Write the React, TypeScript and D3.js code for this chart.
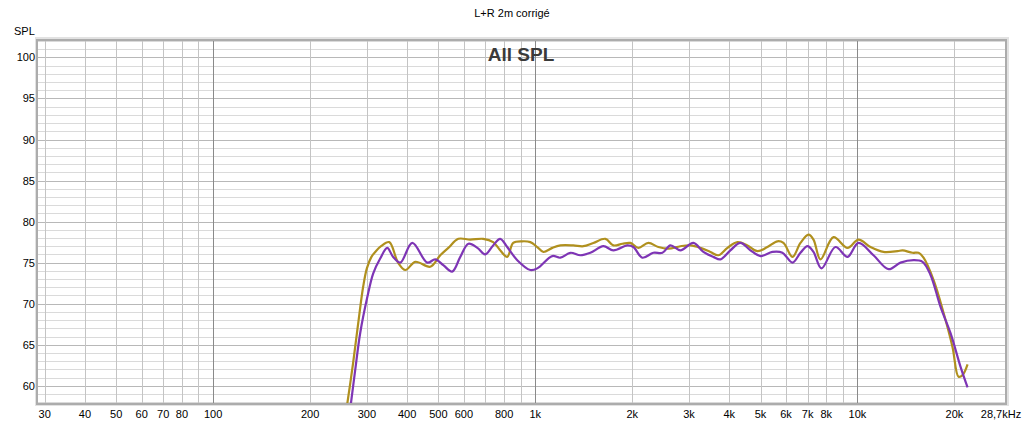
import React, { useRef, useEffect } from 'react';
import * as d3 from 'd3';

const goldFreq = [259, 272, 282, 292, 300, 310, 320, 332, 352, 375, 395, 424, 472, 507, 537, 577, 628, 689, 740, 778, 818, 854, 911, 965, 1014, 1059, 1129, 1196, 1312, 1410, 1514, 1650, 1747, 1863, 1972, 2089, 2244, 2410, 2588, 2820, 3030, 3253, 3495, 3701, 3948, 4240, 4554, 4891, 5253, 5644, 5891, 6284, 6653, 7045, 7302, 7676, 8425, 9310, 10073, 10975, 12040, 13313, 13799, 14822, 15470, 16033, 17219, 18497, 19725, 20591, 21191, 21963];
const goldSpl = [57.0, 62.8, 67.6, 72.0, 74.3, 75.7, 76.4, 77.0, 77.5, 75.0, 74.1, 75.1, 74.5, 75.9, 76.8, 77.9, 77.8, 77.9, 77.5, 76.5, 75.7, 77.4, 77.6, 77.5, 76.9, 76.3, 76.8, 77.1, 77.1, 77.0, 77.4, 77.9, 77.1, 77.3, 77.4, 76.8, 77.4, 76.9, 76.7, 77.0, 77.1, 76.8, 76.3, 75.9, 76.8, 77.5, 77.1, 76.4, 76.9, 77.6, 77.4, 75.7, 77.4, 78.4, 77.8, 75.4, 78.1, 76.8, 77.8, 76.9, 76.3, 76.4, 76.5, 76.2, 76.2, 75.6, 72.9, 68.9, 64.7, 61.1, 61.3, 62.6];

const purpleFreq = [266, 276, 286, 301, 314, 330, 347, 362, 381, 415, 462, 489, 518, 552, 585, 620, 661, 699, 740, 778, 818, 879, 965, 1014, 1129, 1196, 1285, 1380, 1482, 1626, 1747, 1931, 2015, 2149, 2325, 2480, 2626, 2820, 3095, 3324, 3571, 3754, 4032, 4332, 4653, 4998, 5445, 5848, 6284, 6653, 6995, 7302, 7731, 8546, 9310, 10073, 11213, 12488, 13602, 14929, 15919, 16855, 18106, 19447, 20889, 21963];
const purpleSpl = [57.0, 61.9, 66.4, 70.8, 73.7, 75.5, 76.8, 75.7, 75.0, 77.4, 75.0, 75.4, 74.7, 73.9, 75.7, 77.3, 76.8, 76.0, 77.1, 77.9, 76.9, 75.3, 74.1, 74.3, 75.8, 75.6, 76.2, 75.9, 76.2, 77.0, 76.5, 77.1, 76.9, 75.6, 76.2, 76.2, 77.1, 76.5, 77.4, 76.3, 75.7, 75.4, 76.5, 77.4, 76.5, 75.8, 76.3, 76.2, 75.0, 76.2, 77.0, 76.3, 74.3, 76.9, 75.7, 77.4, 75.9, 74.2, 75.0, 75.3, 75.1, 73.5, 69.6, 66.4, 62.3, 59.8];

const xTickValues = [30, 40, 50, 60, 70, 80, 100, 200, 300, 400, 500, 600, 800, 1000, 2000, 3000, 4000, 5000, 6000, 7000, 8000, 10000, 20000];
const yTickValues = [60, 65, 70, 75, 80, 85, 90, 95, 100];

const chartTitle = 'L+R 2m corrigé';
const innerTitle = 'All SPL';

const W = 1024;
const H = 426;
const left = 38;
const right = 1005;
const top = 41;
const bottom = 403;

const fmtFreq = (f: number) => (f >= 1000 ? `${f / 1000}k` : `${f}`);

const App: React.FC = () => {
  const svgRef = useRef<SVGSVGElement | null>(null);

  useEffect(() => {
    if (!svgRef.current) return;
    const svg = d3.select(svgRef.current);
    svg.selectAll('*').remove();

    const x = d3.scaleLog().domain([28.6, 28700]).range([left, right]);
    const y = d3.scaleLinear().domain([57.9, 102]).range([bottom, top]);

    svg.append('rect').attr('width', W).attr('height', H).attr('fill', '#fff');

    // shadow frame
    svg.append('rect')
      .attr('x', left - 3).attr('y', top - 4)
      .attr('width', right - left + 7).attr('height', bottom - top + 7)
      .attr('fill', '#e2e2e2');
    svg.append('rect')
      .attr('x', left - 2).attr('y', top - 2)
      .attr('width', right - left + 4).attr('height', bottom - top + 4)
      .attr('fill', '#acacac');
    svg.append('rect')
      .attr('x', left).attr('y', top)
      .attr('width', right - left).attr('height', bottom - top)
      .attr('fill', '#fff');

    const grid = svg.append('g');
    // horizontal grid every 1 dB
    for (let v = 58; v <= 102; v++) {
      grid.append('line')
        .attr('x1', left).attr('x2', right)
        .attr('y1', Math.round(y(v)) + 0.5).attr('y2', Math.round(y(v)) + 0.5)
        .attr('stroke', v % 5 === 0 ? '#b8b8b8' : '#dadada')
        .attr('stroke-width', 1);
    }
    // vertical grid
    const vLines: number[] = [];
    [10, 100, 1000, 10000].forEach((d) => {
      for (let k = 1; k <= 9; k++) {
        const f = d * k;
        if (f >= 30 && f <= 28000) vLines.push(f);
      }
    });
    vLines.forEach((f) => {
      const major = f === 100 || f === 1000 || f === 10000;
      grid.append('line')
        .attr('x1', Math.round(x(f)) + 0.5).attr('x2', Math.round(x(f)) + 0.5)
        .attr('y1', top).attr('y2', bottom)
        .attr('stroke', major ? '#8a8a8a' : '#c4c4c4')
        .attr('stroke-width', 1);
    });

    svg.append('text')
      .attr('x', 521).attr('y', 61)
      .attr('text-anchor', 'middle')
      .style('font-family', 'Liberation Sans, Arial, sans-serif')
      .style('font-size', '19px')
      .style('font-weight', 'bold')
      .style('fill', '#3a3a3a')
      .text(innerTitle);

    const clip = svg.append('clipPath').attr('id', 'plotclip');
    clip.append('rect').attr('x', left).attr('y', top).attr('width', right - left).attr('height', bottom - top);

    const line = d3.line<[number, number]>()
      .x((d) => x(d[0]))
      .y((d) => y(d[1]))
      .curve(d3.curveCatmullRom.alpha(0.5));

    const plot = svg.append('g').attr('clip-path', 'url(#plotclip)');
    plot.append('path')
      .datum(goldFreq.map((f, i) => [f, goldSpl[i]] as [number, number]))
      .attr('d', line)
      .attr('fill', 'none')
      .attr('stroke', '#b0901e')
      .attr('stroke-width', 2.2);
    plot.append('path')
      .datum(purpleFreq.map((f, i) => [f, purpleSpl[i]] as [number, number]))
      .attr('d', line)
      .attr('fill', 'none')
      .attr('stroke', '#7e35b5')
      .attr('stroke-width', 2.2);

    const font = 'Liberation Sans, Arial, sans-serif';

    svg.append('text')
      .attr('x', 512).attr('y', 17)
      .attr('text-anchor', 'middle')
      .style('font-family', font).style('font-size', '11px').style('fill', '#000')
      .text(chartTitle);

    svg.append('text')
      .attr('x', 14).attr('y', 35)
      .style('font-family', font).style('font-size', '11px').style('fill', '#000')
      .text('SPL');

    svg.append('g').selectAll('text')
      .data(yTickValues)
      .enter().append('text')
      .attr('x', 35)
      .attr('y', (d) => y(d) + 4)
      .attr('text-anchor', 'end')
      .style('font-family', font).style('font-size', '11px').style('fill', '#000')
      .text((d) => d);

    svg.append('g').selectAll('text')
      .data(xTickValues)
      .enter().append('text')
      .attr('x', (d) => x(d))
      .attr('y', 418)
      .attr('text-anchor', 'middle')
      .style('font-family', font).style('font-size', '11px').style('fill', '#000')
      .text((d) => fmtFreq(d));

    svg.append('text')
      .attr('x', 1001).attr('y', 418)
      .attr('text-anchor', 'middle')
      .style('font-family', font).style('font-size', '11px').style('fill', '#000')
      .text('28,7kHz');
  }, []);

  return (
    <svg
      ref={svgRef}
      width={W}
      height={H}
      style={{ position: 'absolute', left: 0, top: 0, display: 'block' }}
    />
  );
};

export default App;
